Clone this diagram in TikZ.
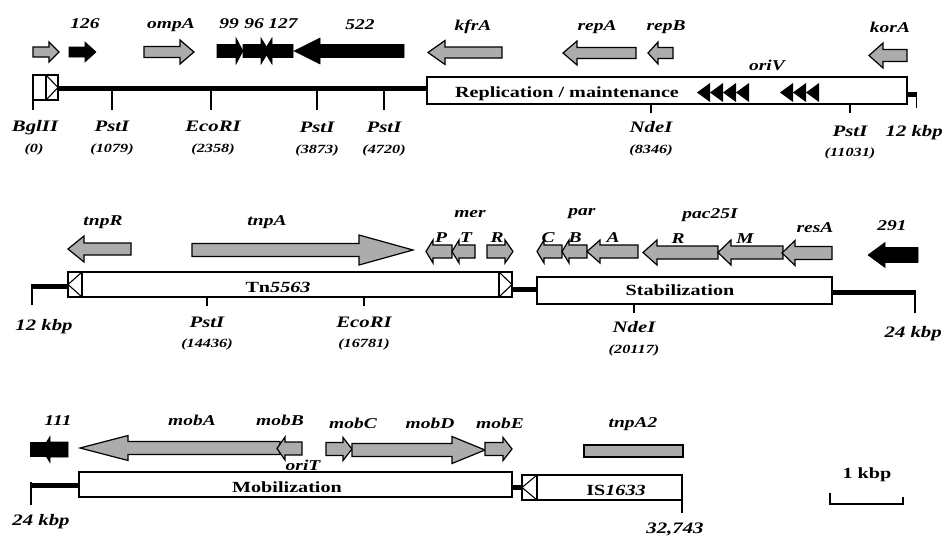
\documentclass[tikz,border=0pt]{standalone}
\usepackage{fontspec}
\setmainfont{Liberation Serif}[FakeStretch=1.3]
\newcommand\genearr[7]{% #1 style, #2 tail x, #3 head base x, #4 tip x, #5 y, #6 body half, #7 head half
  \draw[#1] (#2,#5-#6) -- (#3,#5-#6) -- (#3,#5-#7) -- (#4,#5) -- (#3,#5+#7) -- (#3,#5+#6) -- (#2,#5+#6) -- cycle;}
\begin{document}
\begin{tikzpicture}[x=1pt,y=-1pt,
  garr/.style={fill=gray!65,draw=black,line width=1.2pt,line join=miter},
  barr/.style={fill=black,draw=black,line width=0.6pt,line join=miter},
  bb/.style={line width=5pt},
  tk/.style={line width=1.1pt},
  boxs/.style={draw=black,fill=white,line width=1.2pt},
  genelbl/.style={anchor=base,inner sep=0pt,font=\fontsize{15}{17}\selectfont\bfseries\itshape},
  sitelbl/.style={anchor=base,inner sep=0pt,font=\fontsize{16}{18}\selectfont\bfseries\itshape},
  poslbl/.style={anchor=base,inner sep=0pt,font=\fontsize{12.5}{14}\selectfont\bfseries\itshape},
  boxlbl/.style={anchor=base,inner sep=0pt,font=\fontsize{15.5}{17}\selectfont\bfseries},
]
\useasboundingbox (0,0) rectangle (944,538);

% ================= Row 1 =================
\draw[bb] (58,88) -- (427,88);
\draw[boxs] (33,75) rectangle (58,100);
\draw[tk] (46,75) -- (46,100);
\draw[tk] (46,75) -- (58,87.5) -- (46,100);
\draw[tk] (33,100) -- (33,110);
\foreach \x in {112,211,317,384} \draw[tk] (\x,90) -- (\x,110);
\draw[boxs] (427,77) rectangle (907,104);
\draw[bb] (907,94) -- (917,94);
\draw[tk] (916.5,92) -- (916.5,108);
\draw[tk] (651,104) -- (651,113);
\draw[tk] (850,104) -- (850,113);
% oriV repeats
\foreach \t in {697,710,723,736,780,793,806}
  \fill (\t,92.5) -- (\t+13,83) -- (\t+13,102) -- cycle;

\node[boxlbl] (repl) at (567,97) {Replication / maintenance};
\node[genelbl] (oriv) at (767,70) {oriV};

% genes row 1
\genearr{garr}{33}{49}{59}{52}{5}{10}
\genearr{barr}{69}{85}{96}{52}{5}{10}
\genearr{garr}{144}{180}{194}{52}{5.5}{12}
\genearr{barr}{293}{272}{264}{51}{6.5}{13}
\genearr{barr}{217}{236}{243}{51}{6.5}{13}
\genearr{barr}{243}{261}{269}{51}{6.5}{13}
\genearr{barr}{404}{320}{294}{51}{6.5}{13}
\genearr{garr}{502}{445}{428}{52.5}{5.5}{12}
\genearr{garr}{636}{577}{563}{53}{5.5}{12}
\genearr{garr}{673}{658}{648}{53}{5.5}{11}
\genearr{garr}{907}{883}{869}{55.5}{6}{12.5}

\node[genelbl] (g126) at (85,28) {126};
\node[genelbl] (gompA) at (171,28) {ompA};
\node[genelbl] (g99) at (229,28) {99};
\node[genelbl] (g96) at (254,28) {96};
\node[genelbl] (g127) at (283,28) {127};
\node[genelbl] (g522) at (360,29) {522};
\node[genelbl] (gkfrA) at (473,30) {kfrA};
\node[genelbl] (grepA) at (597,30) {repA};
\node[genelbl] (grepB) at (666,30) {repB};
\node[genelbl] (gkorA) at (890,32) {korA};

\node[sitelbl] (s1) at (35,131) {BglII};
\node[poslbl] (p1) at (34,152) {(0)};
\node[sitelbl] (s2) at (112,131) {PstI};
\node[poslbl] (p2) at (112,152) {(1079)};
\node[sitelbl] (s3) at (213,131) {EcoRI};
\node[poslbl] (p3) at (213,152) {(2358)};
\node[sitelbl] (s4) at (317,132) {PstI};
\node[poslbl] (p4) at (317,153) {(3873)};
\node[sitelbl] (s5) at (384,132) {PstI};
\node[poslbl] (p5) at (384,153) {(4720)};
\node[sitelbl] (s6) at (651,132) {NdeI};
\node[poslbl] (p6) at (651,153) {(8346)};
\node[sitelbl] (s7) at (850,136) {PstI};
\node[poslbl] (p7) at (850,156) {(11031)};
\node[sitelbl,anchor=base east] (k1) at (943,136) {12 kbp};

% ================= Row 2 =================
\draw[tk] (32,284) -- (32,305);
\draw[bb] (31.5,286) -- (68,286);
\draw[boxs] (68,272) rectangle (512,297);
\draw[tk] (82,272) -- (82,297);
\draw[tk] (82,272) -- (68,284.5) -- (82,297);
\draw[tk] (499,272) -- (499,297);
\draw[tk] (499,272) -- (512,284.5) -- (499,297);
\draw[bb] (512,289) -- (537,289);
\draw[boxs] (537,277) rectangle (832,304);
\draw[bb] (832,292) -- (915.5,292);
\draw[tk] (915,290) -- (915,313);
\draw[tk] (207,297) -- (207,306);
\draw[tk] (364,297) -- (364,306);
\draw[tk] (634,304) -- (634,313);

\node[boxlbl] (tn) at (278,292) {Tn\textit{5563}};
\node[boxlbl] (stab) at (680,295) {Stabilization};

\genearr{garr}{131}{84}{68}{249}{6}{13}
\genearr{garr}{192}{359}{413}{250}{6.5}{15}
\genearr{garr}{452}{433}{426}{251.5}{6.5}{11.5}
\genearr{garr}{475}{459}{452}{251.5}{6.5}{11.5}
\genearr{garr}{487}{505}{513}{251.5}{6.5}{11.5}
\genearr{garr}{562}{544}{537}{251.5}{6.5}{11.5}
\genearr{garr}{587}{569}{562}{251.5}{6.5}{11.5}
\genearr{garr}{638}{600}{587}{251.5}{6.5}{11.5}
\genearr{garr}{718}{657}{643}{252.5}{6.5}{12.5}
\genearr{garr}{783}{731}{718}{252.5}{6.5}{12.5}
\genearr{garr}{832}{795}{782}{253}{6.5}{12.5}
\genearr{barr}{918}{885}{868}{255}{7.5}{12.5}

\node[genelbl] (gtnpR) at (103,225) {tnpR};
\node[genelbl] (gtnpA) at (267,225) {tnpA};
\node[genelbl] (gmer) at (470,217) {mer};
\node[genelbl] (gP) at (441,242) {P};
\node[genelbl] (gT) at (466,242) {T};
\node[genelbl] (gR) at (497,242) {R};
\node[genelbl] (gpar) at (582,215) {par};
\node[genelbl] (gC) at (548,242) {C};
\node[genelbl] (gB) at (575,242) {B};
\node[genelbl] (gA) at (613,242) {A};
\node[genelbl] (gpac) at (710,218) {pac25I};
\node[genelbl] (gR2) at (678,243) {R};
\node[genelbl] (gM) at (745,243) {M};
\node[genelbl] (gresA) at (815,232) {resA};
\node[genelbl] (g291) at (892,230) {291};

\node[sitelbl] (k2) at (44,330) {12 kbp};
\node[sitelbl] (s8) at (207,327) {PstI};
\node[poslbl] (p8) at (207,347) {(14436)};
\node[sitelbl] (s9) at (364,327) {EcoRI};
\node[poslbl] (p9) at (364,347) {(16781)};
\node[sitelbl] (s10) at (634,332) {NdeI};
\node[poslbl] (p10) at (634,353) {(20117)};
\node[sitelbl,anchor=base east] (k3) at (942,337) {24 kbp};

% ================= Row 3 =================
\draw[tk] (31,482) -- (31,505);
\draw[bb] (30.5,485) -- (79,485);
\draw[boxs] (79,472) rectangle (512,497);
\draw[bb] (512,487) -- (522,487);
\draw[boxs] (522,475) rectangle (682,500);
\draw[tk] (537,475) -- (537,500);
\draw[tk] (537,475) -- (522,487.5) -- (537,500);
\draw[tk] (682,500) -- (682,513);

\node[boxlbl] (mob) at (287,492) {Mobilization};
\node[boxlbl] (is) at (616,495) {IS\textit{1633}};

\fill (30,442) rectangle (48,457);
\genearr{barr}{68}{50}{42}{449.5}{7.5}{13}
\genearr{garr}{280}{128}{80}{448}{6.5}{12.5}
\genearr{garr}{302}{285}{277}{448.5}{6.5}{11.5}
\genearr{garr}{326}{343}{352}{449}{6.5}{11.5}
\genearr{garr}{352}{452}{485}{450}{6.5}{13.5}
\genearr{garr}{485}{503}{512}{449}{6.5}{11.5}
\draw[garr] (584,445) rectangle (683,457);

\node[genelbl] (g111) at (58,425) {111};
\node[genelbl] (gmobA) at (192,425) {mobA};
\node[genelbl] (gmobB) at (280,425) {mobB};
\node[genelbl] (goriT) at (303,470) {oriT};
\node[genelbl] (gmobC) at (353,428) {mobC};
\node[genelbl] (gmobD) at (430,428) {mobD};
\node[genelbl] (gmobE) at (500,428) {mobE};
\node[genelbl] (gtnpA2) at (633,427) {tnpA2};

\node[sitelbl] (k4) at (41,525) {24 kbp};
\node[sitelbl] (k5) at (675,533) {32,743};

% scale bar
\node[boxlbl] (sc) at (867,478) {1 kbp};
\draw[tk] (830,493) -- (830,504) -- (903,504) -- (903,497);
\end{tikzpicture}
\end{document}
